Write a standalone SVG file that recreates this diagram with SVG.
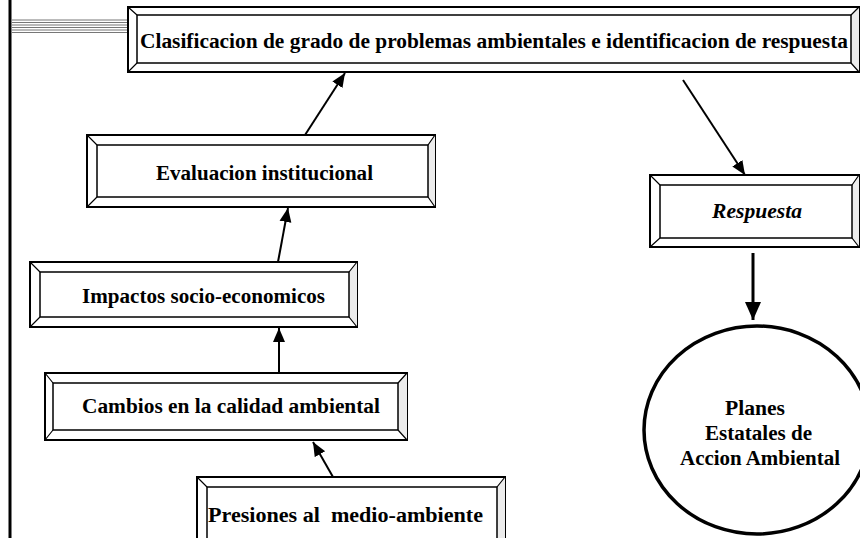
<svg xmlns="http://www.w3.org/2000/svg" width="860" height="538" viewBox="0 0 860 538">
<defs>
<marker id="ah" markerUnits="userSpaceOnUse" markerWidth="16" markerHeight="14" refX="14" refY="7" orient="auto">
<path d="M0,1 L14,7 L0,13 Z" fill="#000"/>
</marker>
<marker id="ahb" markerUnits="userSpaceOnUse" markerWidth="20" markerHeight="18" refX="18" refY="9" orient="auto">
<path d="M0,1 L18,9 L0,17 Z" fill="#000"/>
</marker>
</defs>
<style>
.o{fill:#fff;stroke:#000;stroke-width:2}
.i{fill:none;stroke:#000;stroke-width:1.5}
.b{stroke:#000;stroke-width:1.2}
.r{fill:#ececec;stroke:none}
.t{font-family:"Liberation Serif","Times New Roman",serif;font-weight:bold;font-size:20px;fill:#000}
.c{stroke:#000;stroke-width:2;fill:none}
</style>
<rect width="860" height="538" fill="#fff"/>
<line x1="10" y1="0" x2="10" y2="538" stroke="#000" stroke-width="3"/>
<g stroke="#777" stroke-width="1">
<line x1="12" y1="20" x2="128" y2="20"/>
<line x1="12" y1="22.5" x2="128" y2="22.5"/>
<line x1="12" y1="25" x2="128" y2="25"/>
<line x1="12" y1="27.5" x2="128" y2="27.5"/>
<line x1="12" y1="30" x2="128" y2="30"/>
<line x1="12" y1="32.5" x2="128" y2="32.5"/>
</g>
<g id="clasificacion">
<rect class="o" x="128" y="7" width="731" height="65"/>
<path class="r" d="M851,15 L859,7 L859,72 L851,63 Z"/>
<rect class="i" x="137" y="15" width="714" height="48"/>
<path class="b" d="M128,7 L137,15 M859,7 L851,15 M128,72 L137,63 M859,72 L851,63"/>
<text class="t" x="140" y="48" textLength="708" lengthAdjust="spacingAndGlyphs">Clasificacion de grado de problemas ambientales e identificacion de respuesta</text>
</g>
<g id="evaluacion">
<rect class="o" x="87" y="135" width="348" height="72"/>
<path class="r" d="M428,145 L435,135 L435,207 L428,197 Z"/>
<rect class="i" x="97" y="145" width="331" height="52"/>
<path class="b" d="M87,135 L97,145 M435,135 L428,145 M87,207 L97,197 M435,207 L428,197"/>
<text class="t" x="156" y="180" textLength="217" lengthAdjust="spacingAndGlyphs">Evaluacion institucional</text>
</g>
<g id="impactos">
<rect class="o" x="30" y="262" width="327" height="65"/>
<path class="r" d="M349,272 L357,262 L357,327 L349,317 Z"/>
<rect class="i" x="40" y="272" width="309" height="45"/>
<path class="b" d="M30,262 L40,272 M357,262 L349,272 M30,327 L40,317 M357,327 L349,317"/>
<text class="t" x="82" y="303" textLength="243" lengthAdjust="spacingAndGlyphs">Impactos socio-economicos</text>
</g>
<g id="cambios">
<rect class="o" x="45" y="373" width="362" height="67"/>
<path class="r" d="M398,383 L407,373 L407,440 L398,430 Z"/>
<rect class="i" x="53" y="383" width="345" height="47"/>
<path class="b" d="M45,373 L53,383 M407,373 L398,383 M45,440 L53,430 M407,440 L398,430"/>
<text class="t" x="82" y="413" textLength="298" lengthAdjust="spacingAndGlyphs">Cambios en la calidad ambiental</text>
</g>
<g id="presiones">
<rect class="o" x="197" y="477" width="308" height="72"/>
<path class="r" d="M497,487 L505,477 L505,549 L497,540 Z"/>
<rect class="i" x="207" y="487" width="290" height="53"/>
<path class="b" d="M197,477 L207,487 M505,477 L497,487"/>
<text class="t" x="208" y="522" textLength="275" lengthAdjust="spacingAndGlyphs" xml:space="preserve">Presiones al  medio-ambiente</text>
</g>
<g id="respuesta">
<rect class="o" x="650" y="175" width="209" height="72"/>
<path class="r" d="M852,185 L859,175 L859,247 L852,238 Z"/>
<rect class="i" x="660" y="185" width="192" height="53"/>
<path class="b" d="M650,175 L660,185 M859,175 L852,185 M650,247 L660,238 M859,247 L852,238"/>
<text class="t" x="712" y="218" font-style="italic" textLength="90" lengthAdjust="spacingAndGlyphs">Respuesta</text>
</g>
<g id="planes">
<ellipse cx="757" cy="430" rx="113" ry="104" fill="#fff" stroke="#000" stroke-width="3.5"/>
<text class="t" x="725" y="415" textLength="60" lengthAdjust="spacingAndGlyphs">Planes</text>
<text class="t" x="705" y="440" textLength="107" lengthAdjust="spacingAndGlyphs">Estatales de</text>
<text class="t" x="680" y="465" textLength="160" lengthAdjust="spacingAndGlyphs">Accion Ambiental</text>
</g>
<g id="connectors">
<line class="c" x1="305" y1="135" x2="345" y2="73" marker-end="url(#ah)"/>
<line class="c" x1="683" y1="80" x2="745" y2="175" marker-end="url(#ah)"/>
<line x1="753" y1="253" x2="753" y2="320" stroke="#000" stroke-width="3" marker-end="url(#ahb)"/>
<line class="c" x1="278" y1="262" x2="288" y2="208" marker-end="url(#ah)"/>
<line class="c" x1="279" y1="373" x2="279" y2="328" marker-end="url(#ah)"/>
<line class="c" x1="333" y1="477" x2="313" y2="442" marker-end="url(#ah)"/>
</g>
</svg>
